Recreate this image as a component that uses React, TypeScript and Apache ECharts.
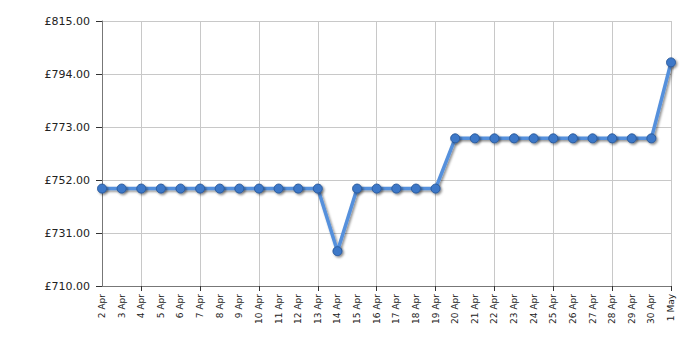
import React, { useEffect, useRef } from "react";
import * as echarts from "echarts";

const categories = [
  "2 Apr", "3 Apr", "4 Apr", "5 Apr", "6 Apr", "7 Apr", "8 Apr", "9 Apr", "10 Apr", "11 Apr",
  "12 Apr", "13 Apr", "14 Apr", "15 Apr", "16 Apr", "17 Apr", "18 Apr", "19 Apr", "20 Apr", "21 Apr",
  "22 Apr", "23 Apr", "24 Apr", "25 Apr", "26 Apr", "27 Apr", "28 Apr", "29 Apr", "30 Apr", "1 May",
];
const prices = [
  748.6, 748.6, 748.6, 748.6, 748.6, 748.6, 748.6, 748.6, 748.6, 748.6,
  748.6, 748.6, 723.8, 748.6, 748.6, 748.6, 748.6, 748.6, 768.5, 768.5,
  768.5, 768.5, 768.5, 768.5, 768.5, 768.5, 768.5, 768.5, 768.5, 798.6,
];
const yMin = 710;
const yMax = 815;
const yStep = 21;

export default function App() {
  const ref = useRef<HTMLDivElement>(null);
  useEffect(() => {
    if (!ref.current) return;
    const chart = echarts.init(ref.current, undefined, { renderer: "svg" });
    const gridInterval = (idx: number) => idx % 3 === 2;
    chart.setOption({
      animation: false,
      grid: { left: 102, right: 29, top: 21, bottom: 64 },
      xAxis: {
        type: "category",
        data: categories,
        boundaryGap: false,
        axisLine: { lineStyle: { color: "#777", width: 1 } },
        axisTick: { show: true, interval: gridInterval, length: 5, lineStyle: { color: "#333" } },
        axisLabel: {
          interval: 0,
          rotate: 90,
          fontFamily: "DejaVu Sans",
          fontSize: 9,
          color: "#222",
          margin: 8,
        },
        splitLine: { show: true, interval: gridInterval, lineStyle: { color: "#c8c8c8", width: 1 } },
      },
      yAxis: {
        type: "value",
        min: yMin,
        max: yMax,
        interval: yStep,
        axisLine: { show: true, lineStyle: { color: "#777", width: 1 } },
        axisTick: { show: true, length: 6, lineStyle: { color: "#333" } },
        axisLabel: {
          formatter: (v: number) => "£" + v.toFixed(2),
          fontFamily: "DejaVu Sans",
          fontSize: 11,
          color: "#222",
          margin: 12,
        },
        splitLine: { show: true, lineStyle: { color: "#c8c8c8", width: 1 } },
      },
      series: [
        {
          type: "line",
          data: prices,
          symbol: "circle",
          symbolSize: 9,
          lineStyle: {
            color: "#5590dc",
            width: 3.5,
            shadowColor: "rgba(0,0,0,0.45)",
            shadowBlur: 2,
            shadowOffsetX: 1.5,
            shadowOffsetY: 1.5,
          },
          itemStyle: {
            color: "#3d78c8",
            borderColor: "#2a5a9c",
            borderWidth: 1,
            shadowColor: "rgba(0,0,0,0.45)",
            shadowBlur: 2,
            shadowOffsetX: 1.5,
            shadowOffsetY: 1.5,
          },
          emphasis: { disabled: true },
        },
      ],
    });
    return () => chart.dispose();
  }, []);
  return <div ref={ref} style={{ width: 700, height: 350, position: "absolute", left: 0, top: 0 }} />;
}
